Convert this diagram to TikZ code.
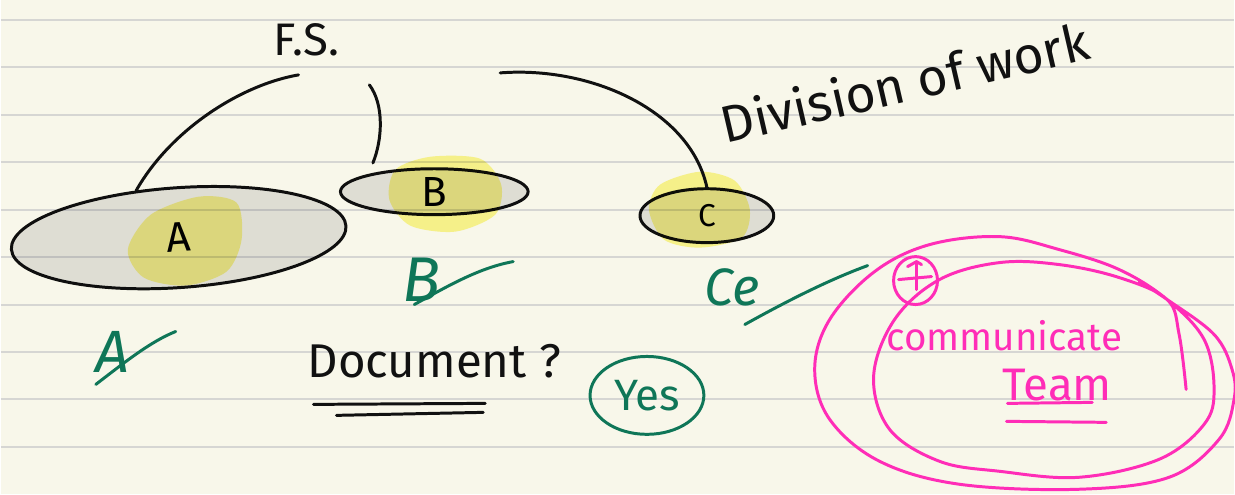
\documentclass[tikz,border=0pt]{standalone}
\usepackage{fontspec}
\setmainfont{Fira Sans}
\usetikzlibrary{shapes.geometric}

\definecolor{paper}{HTML}{F8F7EA}
\definecolor{ruling}{HTML}{D6D6D3}
\definecolor{ink}{HTML}{111111}
\definecolor{inkgreen}{HTML}{0F7658}
\definecolor{inkpink}{HTML}{FF2DB7}
\definecolor{shade}{HTML}{E5E5E6}
\definecolor{marker}{HTML}{FCF896}

\newcommand{\fsz}[1]{\fontsize{#1}{#1}\selectfont}

\tikzset{
  pen/.style={line width=1.7pt, line cap=round, line join=round},
  group/.style={ellipse, draw=ink, pen, fill=shade, inner sep=0pt,
    blend mode=multiply, font=\fsz{24}},
  glow/.style={fill=marker, blend mode=multiply},
  note/.style={text=ink, inner sep=1pt},
  signed/.style={text=inkgreen, inner sep=1pt},
  greenpen/.style={draw=inkgreen, pen},
  pinkpen/.style={draw=inkpink, pen},
}

\begin{document}
\begin{tikzpicture}[x=0.02cm, y=-0.02cm]
% paper with its ruling
\fill[paper] (0,0) rectangle (1235,495);
\foreach \k in {0,...,9}
  \draw[ruling, line width=1.1pt] (0,20+47.5*\k) -- (1235,20+47.5*\k);
\useasboundingbox (0,0) rectangle (1235,495);

% the three parts
\node[group, minimum width=6.72cm, minimum height=2cm, rotate=4] (A) at (178,238) {A};
\node[group, minimum width=3.76cm, minimum height=0.92cm] (B) at (434,192) {B};
\node[group, minimum width=2.68cm, minimum height=1.08cm, font=\fsz{18}] (C) at (707,216) {C};

% highlighter marks
\fill[glow] plot[smooth cycle] coordinates {(150,215) (198,197) (236,203) (241,240) (226,272) (185,286) (143,278) (127,250)};
\fill[glow] plot[smooth cycle] coordinates {(395,170) (430,157) (480,159) (501,185) (495,215) (455,232) (410,226) (389,200)};
\fill[glow] plot[smooth cycle] coordinates {(660,185) (700,172) (735,181) (750,210) (742,238) (700,248) (664,240) (649,210)};

% F.S. and its branches
\node[note, font=\fsz{26}] (fs) at (306,40) {F.S.};
\coordinate (fsA) at (298,75);
\coordinate (fsB) at (369,85);
\coordinate (fsC) at (500,73);
\draw[ink, pen] (fsA) .. controls (240,85) and (170,130) .. (A.128);
\draw[ink, pen, shorten >=0.24cm] (fsB) .. controls (384,105) and (382,140) .. (B.165);
\draw[ink, pen] (fsC) .. controls (590,66) and (690,110) .. (C.north);

\node[note, rotate=13, font=\fsz{29.5}] (div) at (905,82) {Division of work};

% sign-offs
\node[signed, font=\fsz{34}\itshape] (sigA) at (112,352) {A};
\draw[greenpen] (95,385) .. controls (125,362) and (150,342) .. (175,332);
\node[signed, font=\fsz{36}\itshape] (sigB) at (421,280) {B};
\draw[greenpen] (414,305) .. controls (450,285) and (480,268) .. (513,262);
\node[signed, font=\fsz{30}\itshape] (sigC) at (732,288) {Ce};
\draw[greenpen] (745,325) .. controls (790,300) and (830,280) .. (868,266);

% document question
\node[note, font=\fsz{27}] (doc) at (434,362) {Document ?};
\draw[ink, pen] (313,405) -- (485,404);
\draw[ink, pen] (336,416) -- (483,413);
\node[signed, font=\fsz{25}] (yes) at (647,396) {Yes};
\draw[greenpen] (yes) ellipse[x radius=57, y radius=39];

% team loop
\draw[pinkpen] plot[smooth, tension=0.6] coordinates {(1187,390) (1180,335) (1168,300) (1120,278) (1060,265) (1000,263) (940,280) (895,320) (874,377) (890,430) (940,462) (1000,472) (1080,478) (1160,460) (1205,425) (1215,390) (1205,340) (1168,300) (1120,270) (1060,250) (1000,237) (930,245) (875,272) (830,320) (815,370) (830,420) (880,462) (960,485) (1080,490) (1170,478) (1220,440) (1235,400) (1233,370) (1215,335) (1168,300) (1140,282)};
\draw[pinkpen] (916,281) ellipse[x radius=22, y radius=24];
\draw[pinkpen] (917,262) -- (917,290);
\draw[pinkpen] (899,280) -- (932,277);
\draw[pinkpen] (908,267) -- (917,262) -- (922,265);
\node[text=inkpink, font=\fsz{22}] (comm) at (1005,336) {communicate};
\node[text=inkpink, font=\fsz{26}] (team) at (1058,386) {Team};
\draw[pinkpen] (1008,404) -- (1093,403);
\draw[pinkpen] (1007,422) -- (1107,423);
\end{tikzpicture}
\end{document}
